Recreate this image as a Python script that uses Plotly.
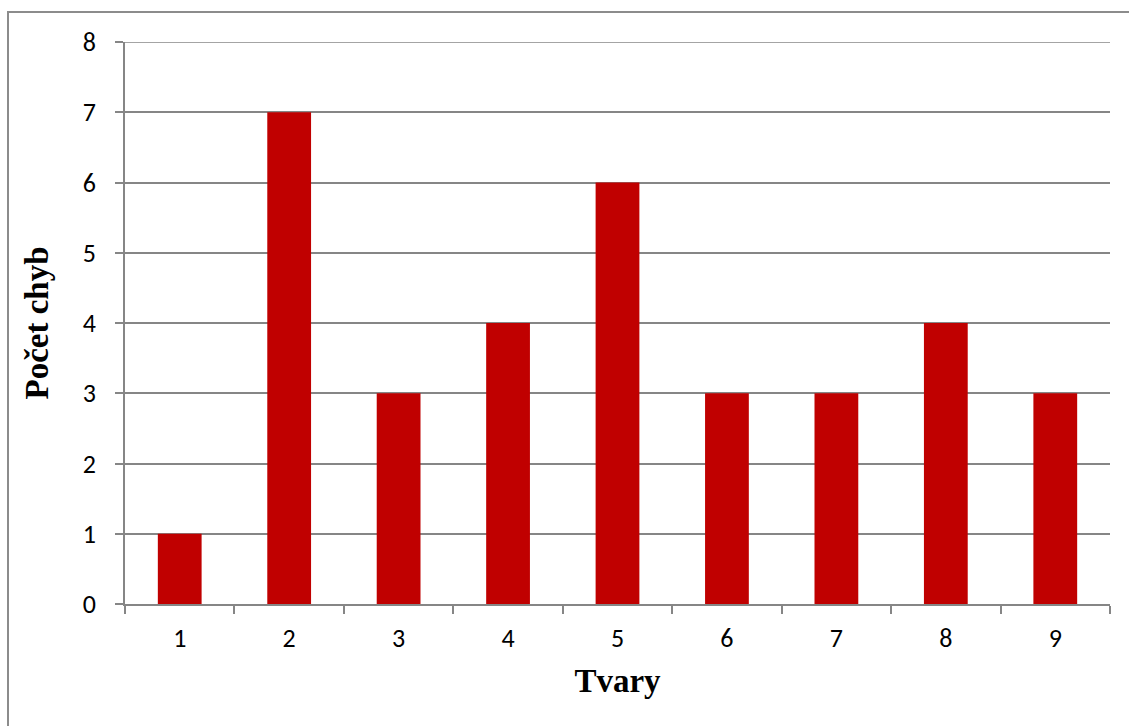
import plotly.graph_objects as go

# Počet chyb pro jednotlivé tvary
tvary = ["1", "2", "3", "4", "5", "6", "7", "8", "9"]
pocet_chyb = [1, 7, 3, 4, 6, 3, 3, 4, 3]
y_max = 8

W, H = 1129, 726
L, R, T, B = 125, 19, 42, 122
pw, ph = W - L - R, H - T - B

grey = "#868686"
tick_font = dict(family="Carlito, Lato, sans-serif", size=26, color="#000000")
title_font = dict(family="Liberation Serif, Times New Roman, serif", size=33, color="#000000")

fig = go.Figure(
    go.Bar(
        x=tvary,
        y=pocet_chyb,
        marker=dict(color="#C00000", line=dict(width=0)),
    )
)

fig.update_layout(
    width=W,
    height=H,
    margin=dict(l=L, r=R, t=T, b=B),
    paper_bgcolor="white",
    plot_bgcolor="white",
    bargap=0.6,
    showlegend=False,
    xaxis=dict(
        type="category",
        tickson="boundaries",
        ticks="outside",
        ticklen=8,
        tickcolor=grey,
        tickwidth=1.5,
        showline=True,
        linecolor=grey,
        linewidth=1.5,
        showgrid=False,
        tickfont=tick_font,
        ticklabelstandoff=10,
        title=dict(text="<b>Tvary</b>", font=title_font, standoff=16),
    ),
    yaxis=dict(
        range=[0, y_max],
        dtick=1,
        ticks="outside",
        ticklen=8,
        tickcolor=grey,
        tickwidth=1.5,
        showline=True,
        linecolor=grey,
        linewidth=1.5,
        showgrid=True,
        gridcolor=grey,
        gridwidth=1.5,
        zeroline=False,
        tickfont=tick_font,
        ticklabelstandoff=14,
        title=dict(text="<b>Počet chyb</b>", font=title_font, standoff=24),
    ),
)

# Horní mřížková čára na maximu osy
fig.add_shape(
    type="line",
    xref="paper",
    yref="y",
    x0=0,
    x1=1,
    y0=y_max,
    y1=y_max,
    line=dict(color=grey, width=1.5),
    layer="below",
)

# Rámeček kolem celého grafu
fig.add_shape(
    type="rect",
    xref="paper",
    yref="paper",
    x0=(8 - L) / pw,
    x1=(W + 10 - L) / pw,
    y0=-(H + 10 - T - ph) / ph,
    y1=1 + (T - 12) / ph,
    line=dict(color="#8c8c8c", width=2),
    fillcolor="rgba(0,0,0,0)",
    layer="below",
)

fig.write_html("out.html")
